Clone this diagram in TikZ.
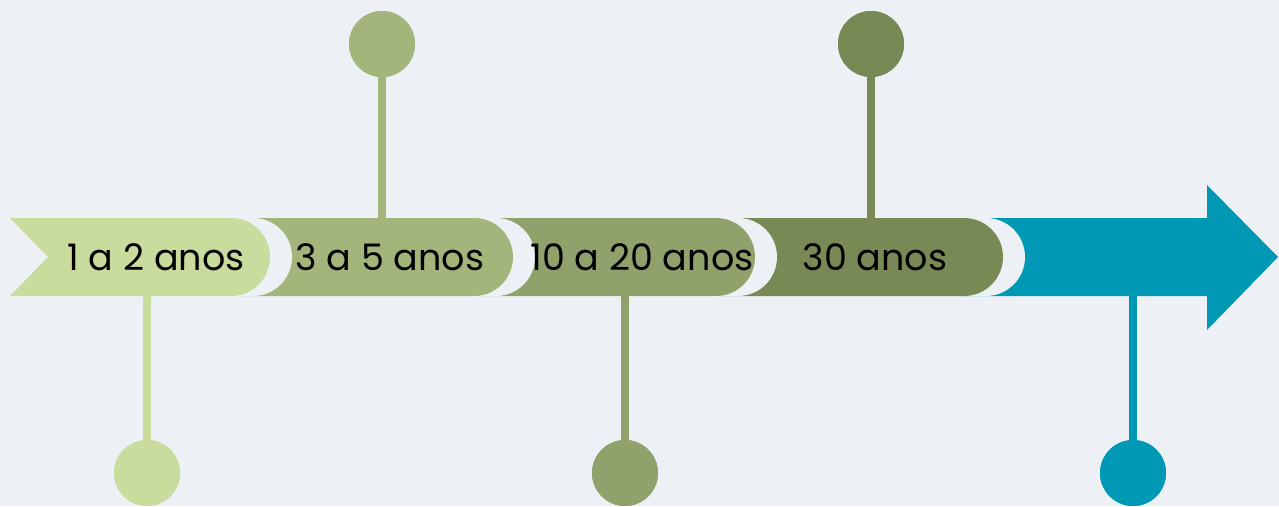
\documentclass[tikz,border=0pt]{standalone}
\usepackage{fontspec}
\setmainfont{Poppins}
\definecolor{bg}{RGB}{237,241,245}
\definecolor{cA}{RGB}{201,220,158}
\definecolor{cB}{RGB}{163,181,123}
\definecolor{cC}{RGB}{144,161,108}
\definecolor{cD}{RGB}{121,137,85}
\definecolor{cE}{RGB}{0,153,181}
\tikzset{
  lbl/.style={font=\fontsize{36.5}{42}\selectfont, text=black, inner sep=0pt},
  dot/.style={circle, minimum size=66pt, inner sep=0pt},
  stem/.style={line width=8pt},
}
\begin{document}
\begin{tikzpicture}[x=1pt,y=-1pt]
\useasboundingbox[fill=bg] (0,0) rectangle (1279,506);
% arrow
\fill[cE] (960,218) -- (1207,218) -- (1207,185) -- (1278,257) -- (1207,330) -- (1207,296) -- (960,296) -- cycle;
% segment 4
\fill[bg] (760,218) -- (986,218) arc[start angle=-90,end angle=90,radius=39] -- (760,296) -- cycle;
\fill[cD] (720,218) -- (964,218) arc[start angle=-90,end angle=90,radius=39] -- (720,296) -- cycle;
% segment 3
\fill[bg] (515,218) -- (738,218) arc[start angle=-90,end angle=90,radius=39] -- (515,296) -- cycle;
\fill[cC] (480,218) -- (716,218) arc[start angle=-90,end angle=90,radius=39] -- (480,296) -- cycle;
% segment 2
\fill[bg] (273,218) -- (496,218) arc[start angle=-90,end angle=90,radius=39] -- (273,296) -- cycle;
\fill[cB] (240,218) -- (474,218) arc[start angle=-90,end angle=90,radius=39] -- (240,296) -- cycle;
% segment 1
\fill[bg] (30,218) -- (253,218) arc[start angle=-90,end angle=90,radius=39] -- (30,296) -- cycle;
\fill[cA] (10,218) -- (231,218) arc[start angle=-90,end angle=90,radius=39] -- (10,296) -- (48,257) -- cycle;
% labels
\node[lbl] (t1) at (156,257) {1 a 2 anos};
\node[lbl] (t2) at (390,257) {3 a 5 anos};
\node[lbl] (t3) at (642,257) {10 a 20 anos};
\node[lbl] (t4) at (875,257) {30 anos};
% stems and dots
\coordinate (s1) at (147,296);
\coordinate (s2) at (382,218);
\coordinate (s3) at (625,296);
\coordinate (s4) at (871,218);
\coordinate (s5) at (1133,296);
\node[dot, fill=cA] (d1) at (147,473) {};
\node[dot, fill=cB] (d2) at (382,44) {};
\node[dot, fill=cC] (d3) at (625,473) {};
\node[dot, fill=cD] (d4) at (871,44) {};
\node[dot, fill=cE] (d5) at (1133,473) {};
\draw[stem, cA] (d1.center) -- (s1);
\draw[stem, cB] (d2.center) -- (s2);
\draw[stem, cC] (d3.center) -- (s3);
\draw[stem, cD] (d4.center) -- (s4);
\draw[stem, cE] (d5.center) -- (s5);
\node[dot, fill=cA] at (d1) {};
\node[dot, fill=cB] at (d2) {};
\node[dot, fill=cC] at (d3) {};
\node[dot, fill=cD] at (d4) {};
\node[dot, fill=cE] at (d5) {};
\end{tikzpicture}
\end{document}
